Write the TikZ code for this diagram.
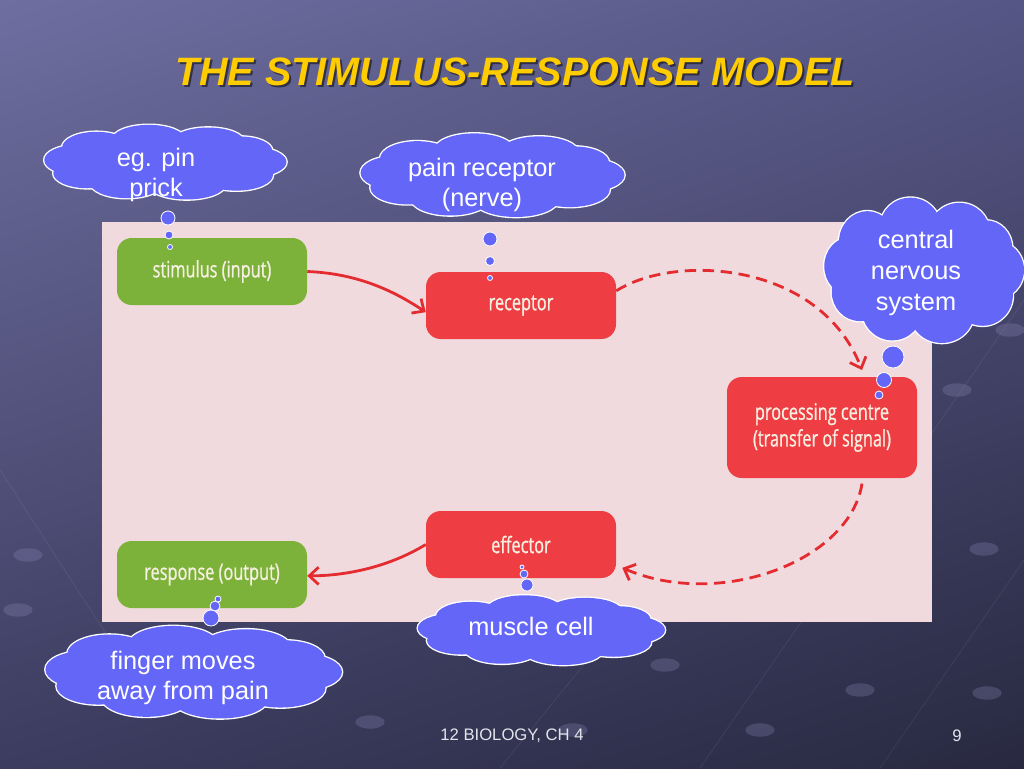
\documentclass[tikz,border=0pt]{standalone}
\usepackage{fontspec}
\setmainfont{Liberation Sans}
\newfontfamily\nodefont[FakeStretch=0.72,FakeBold=0.8]{Open Sans}
\usetikzlibrary{arrows.meta,shadings}
\definecolor{bgTL}{RGB}{110,110,160}
\definecolor{bgTR}{RGB}{86,86,134}
\definecolor{bgBL}{RGB}{60,60,96}
\definecolor{bgBR}{RGB}{40,41,64}
\definecolor{panel}{RGB}{240,218,222}
\definecolor{boxgreen}{RGB}{125,178,58}
\definecolor{boxred}{RGB}{238,62,68}
\definecolor{arrowred}{RGB}{228,44,48}
\definecolor{cloudblue}{RGB}{100,102,248}
\definecolor{nodetext}{RGB}{246,240,226}
\definecolor{titleyellow}{RGB}{255,204,0}
\definecolor{footgrey}{RGB}{228,228,236}
\definecolor{beadcol}{RGB}{140,140,185}
\def\puffs{0/0.28/0.40, 35/0.30/0.42, 75/0.32/0.42, 115/0.30/0.42, 150/0.28/0.40, 185/0.26/0.40, 220/0.28/0.42, 260/0.30/0.40, 300/0.30/0.40, 330/0.26/0.38}
\begin{document}
\begin{tikzpicture}[x=0.75pt,y=-0.75pt,
  box/.style={rounded corners=11pt, minimum width=142.5pt, minimum height=50.25pt,
    text=nodetext, font=\nodefont\fontsize{17}{20}\selectfont, align=center, inner sep=2pt},
  greenbox/.style={box, fill=boxgreen},
  redbox/.style={box, fill=boxred},
  pics/thoughtcloud/.style={code={
    \foreach \t/\rx/\ry in \puffs {\draw[white, line width=2pt] ({0.72*cos(\t)},{0.6*sin(\t)}) ellipse [x radius=\rx, y radius=\ry];}
    \foreach \t/\rx/\ry in \puffs {\fill[cloudblue] ({0.72*cos(\t)},{0.6*sin(\t)}) ellipse [x radius=\rx, y radius=\ry];}
    \fill[cloudblue] (0,0) ellipse [x radius=0.72, y radius=0.6];
  }},
  cloudtext/.style={text=white, align=center, font=\fontsize{19}{23}\selectfont},
  bub/.style={circle, fill=cloudblue, draw=white, line width=0.6pt, inner sep=0pt, minimum size=#1*1.5pt},
  flow/.style={draw=arrowred, line width=2.1pt, -{Straight Barb[length=7pt,width=13pt]}},
  dashflow/.style={flow, dash pattern=on 8.5pt off 5pt},
  bead/.style={fill=beadcol, opacity=0.28},
  faint/.style={draw=white, opacity=0.07, line width=0.6pt}]
\useasboundingbox (0,0) rectangle (1024,768);
% background
\shade[upper left=bgTL, upper right=bgTR, lower left=bgBL, lower right=bgBR] (0,0) rectangle (1024,768);
% decorative template lines and beads
\draw[faint] (880,768) -- (1024,560);
\draw[faint] (700,768) -- (1024,300);
\draw[faint] (0,470) -- (110,640);
\draw[faint] (500,768) -- (620,620);
\fill[bead] (984,549) ellipse [x radius=11pt, y radius=5pt];
\fill[bead] (957,390) ellipse [x radius=11pt, y radius=5pt];
\fill[bead] (1010,330) ellipse [x radius=11pt, y radius=5pt];
\fill[bead] (987,693) ellipse [x radius=11pt, y radius=5pt];
\fill[bead] (28,555) ellipse [x radius=11pt, y radius=5pt];
\fill[bead] (18,610) ellipse [x radius=11pt, y radius=5pt];
\fill[bead] (573,730) ellipse [x radius=11pt, y radius=5pt];
\fill[bead] (760,730) ellipse [x radius=11pt, y radius=5pt];
\fill[bead] (665,665) ellipse [x radius=11pt, y radius=5pt];
\fill[bead] (370,722) ellipse [x radius=11pt, y radius=5pt];
\fill[bead] (860,690) ellipse [x radius=11pt, y radius=5pt];
% title
\node[font=\bfseries\itshape\fontsize{29.7}{34}\selectfont, text=black, opacity=0.5] (titleshadow) at (517,74) {THE STIMULUS-RESPONSE MODEL};
\node[font=\bfseries\itshape\fontsize{29.7}{34}\selectfont, text=titleyellow] (title) at (515,72) {THE STIMULUS-RESPONSE MODEL};
% panel
\fill[panel] (102,222) rectangle (932,622);
% process boxes
\node[greenbox] (stim) at (212,271.5) {stimulus (input)};
\node[redbox] (rec) at (521,305.5) {receptor};
\node[redbox, minimum height=75.75pt] (proc) at (822,427.5) {processing centre\\(transfer of signal)};
\node[redbox] (eff) at (521,544.5) {effector};
\node[greenbox] (resp) at (212,574.5) {response (output)};
% connectors
\draw[flow] (stim.east) .. controls +(52,2) and +(-30,-20) .. ([yshift=-5pt]rec.west);
\draw[dashflow] ([yshift=11pt]rec.east) .. controls +(60,-38) and +(-42,-108) .. ([xshift=30pt,yshift=5pt]proc.north);
\draw[dashflow] ([xshift=30pt,yshift=-4pt]proc.south) .. controls +(-12,77) and +(98,42) .. ([xshift=4.5pt,yshift=-17.5pt]eff.east);
\draw[flow] (eff.west) .. controls +(-36,22) and +(40,0) .. ([yshift=-1pt]resp.east);
% thought clouds
\begin{scope}[shift={(164,162)}, x=91.875pt, y=-28.125pt] \pic {thoughtcloud}; \end{scope}
\node[cloudtext] (t1) at (156,175) {eg. pin\\prick};
\node[bub=7] (b11) at (168,218) {};
\node[bub=4] (b12) at (169,235) {};
\node[bub=2.5] (b13) at (170,247) {};

\begin{scope}[shift={(491,175)}, x=100.125pt, y=-31.5pt] \pic {thoughtcloud}; \end{scope}
\node[cloudtext] (t2) at (482,185) {pain receptor\\(nerve)};
\node[bub=7] (b21) at (490,239) {};
\node[bub=4.5] (b22) at (490,261) {};
\node[bub=2.5] (b23) at (490,278) {};

\begin{scope}[shift={(923,270)}, x=75.75pt, y=-54.75pt] \pic {thoughtcloud}; \end{scope}
\node[cloudtext] (t3) at (916,273) {central\\nervous\\system};
\node[bub=11] (b31) at (893,357) {};
\node[bub=7.5] (b32) at (884,380) {};
\node[bub=4] (b33) at (879,395) {};

\begin{scope}[shift={(540,630)}, x=93.75pt, y=-26.25pt] \pic {thoughtcloud}; \end{scope}
\node[cloudtext] (t4) at (531,626) {muscle cell};
\node[bub=6] (b41) at (527,585) {};
\node[bub=4] (b42) at (524,574) {};
\node[bub=2] (b43) at (522,567) {};

\begin{scope}[shift={(192,672)}, x=112.5pt, y=-34.875pt] \pic {thoughtcloud}; \end{scope}
\node[cloudtext] (t5) at (183,678) {finger moves\\away from pain};
\node[bub=8] (b51) at (211,618) {};
\node[bub=5] (b52) at (215,606) {};
\node[bub=3] (b53) at (218,599) {};
% footer
\node[font=\fontsize{12.5}{15}\selectfont, text=footgrey] (foot) at (512,736) {12 BIOLOGY, CH 4};
\node[font=\fontsize{12.5}{15}\selectfont, text=footgrey] (page) at (957,736) {9};
\end{tikzpicture}
\end{document}
